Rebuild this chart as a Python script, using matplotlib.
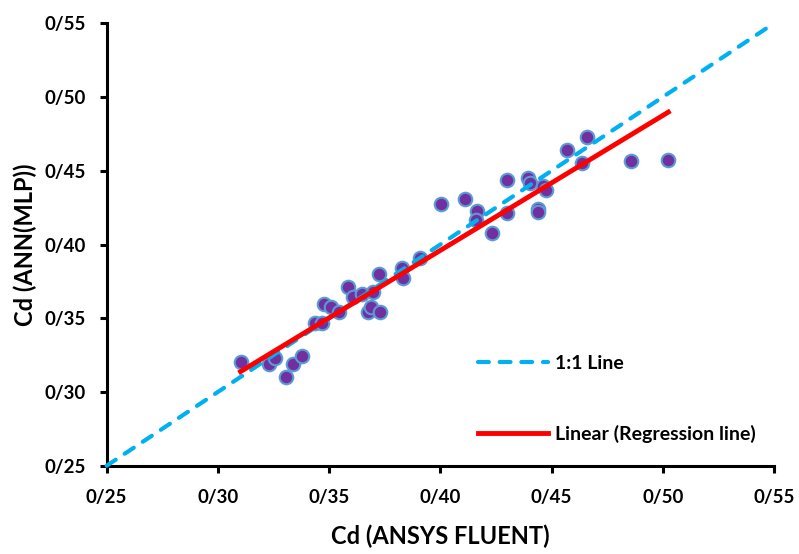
import numpy as np
import matplotlib.pyplot as plt
from matplotlib.ticker import FuncFormatter, MultipleLocator

plt.rcParams['font.family'] = ['Lato', 'DejaVu Sans']
plt.rcParams['font.weight'] = 'bold'

# Cd values: CFD (ANSYS FLUENT) vs predicted (ANN MLP)
cd_fluent = [0.3102, 0.3231, 0.3257, 0.3305, 0.3336, 0.3379, 0.3437, 0.3469,
             0.3477, 0.3508, 0.3546, 0.3586, 0.3609, 0.3647, 0.3676, 0.3688,
             0.3696, 0.3729, 0.3724, 0.3826, 0.3834, 0.3909, 0.4002, 0.4111,
             0.4166, 0.4160, 0.4231, 0.4298, 0.4301, 0.4396, 0.4403, 0.4438,
             0.4438, 0.4462, 0.4475, 0.4568, 0.4636, 0.4659, 0.4856, 0.5025]
cd_ann = [0.3206, 0.3190, 0.3233, 0.3104, 0.3188, 0.3244, 0.3466, 0.3466,
          0.3595, 0.3579, 0.3545, 0.3710, 0.3647, 0.3663, 0.3545, 0.3579,
          0.3680, 0.3545, 0.3800, 0.3839, 0.3771, 0.3909, 0.4273, 0.4309,
          0.4228, 0.4167, 0.4077, 0.4438, 0.4212, 0.4454, 0.4416, 0.4239,
          0.4223, 0.4398, 0.4370, 0.4640, 0.4556, 0.4728, 0.4565, 0.4574]

# trendline coefficients (y = a*x + b)
reg_slope = 0.915
reg_intercept = 0.0300

axis_lim = [0.25, 0.55]

x = np.array(cd_fluent)
y = np.array(cd_ann)

fig = plt.figure(figsize=(7.99, 5.54), dpi=100)
ax = fig.add_axes([0.1335, 0.1594, 0.8352, 0.7985])

ax.scatter(x, y, s=95, color='#7030A0', edgecolors='#5B9BD5', linewidths=1.5, zorder=2)

ax.plot(axis_lim, axis_lim, color='#00B0F0', lw=3, linestyle=(0, (2.6, 2.6)),
        dash_capstyle='round', label='1:1 Line', zorder=3, clip_on=False)

xr = np.array([x.min(), x.max()])
ax.plot(xr, reg_slope * xr + reg_intercept, color='#FF0000', lw=3.5,
        label='Linear (Regression line)', zorder=4)

ax.set_xlim(axis_lim)
ax.set_ylim(axis_lim)
ax.xaxis.set_major_locator(MultipleLocator(0.05))
ax.yaxis.set_major_locator(MultipleLocator(0.05))
fmt = FuncFormatter(lambda v, p: f"{v:.2f}".replace('.', '/'))
ax.xaxis.set_major_formatter(fmt)
ax.yaxis.set_major_formatter(fmt)

for s in ['top', 'right']:
    ax.spines[s].set_visible(False)
for s in ['left', 'bottom']:
    ax.spines[s].set_linewidth(2.2)

ax.tick_params(axis='both', direction='out', length=5, width=2.2, labelsize=13.5)
ax.tick_params(axis='x', pad=12)
ax.tick_params(axis='y', pad=10)
for lbl in ax.get_xticklabels() + ax.get_yticklabels():
    lbl.set_fontweight('bold')

ax.set_xlabel('Cd (ANSYS FLUENT)', fontsize=17, fontweight='bold', labelpad=13)
ax.set_ylabel('Cd (ANN(MLP))', fontsize=17, fontweight='bold', labelpad=5)

leg = ax.legend(loc='upper left', bbox_to_anchor=(0.5564, 0.251), frameon=False,
                borderpad=0, borderaxespad=0, handlelength=3.6, handletextpad=0.36,
                labelspacing=2.73, prop={'size': 14, 'weight': 'bold'})

fig.savefig('out.png', dpi=100)
